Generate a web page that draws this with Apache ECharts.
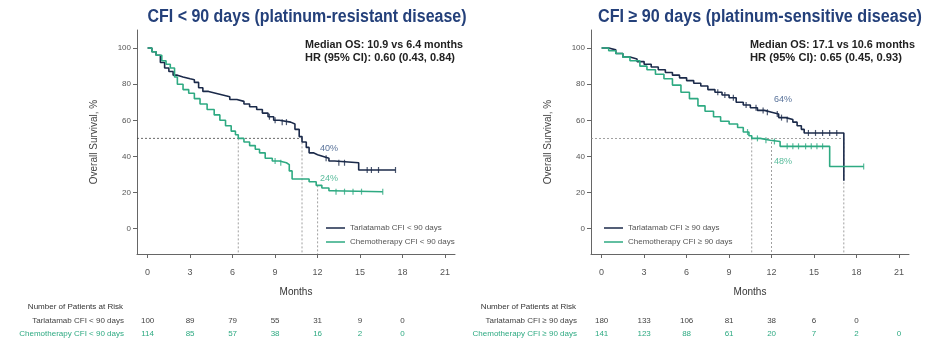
<!DOCTYPE html>
<html><head><meta charset="utf-8">
<script src="https://cdn.jsdelivr.net/npm/echarts@6/dist/echarts.min.js"></script>
<style>html,body{margin:0;padding:0;background:#fff}#c{width:935px;height:347px}</style>
</head><body><div id="c"></div>
<script>
// ---------- data ----------
const xTicks = [0, 3, 6, 9, 12, 15, 18, 21];
const yTicks = [0, 20, 40, 60, 80, 100];
const riskMonths = [0, 3, 6, 9, 12, 15, 18, 21];

const titles = ['CFI < 90 days (platinum-resistant disease)', 'CFI \u2265 90 days (platinum-sensitive disease)'];
const namesLeft = ['Tarlatamab CFI < 90 days', 'Chemotherapy CFI < 90 days'];
const namesRight = ['Tarlatamab CFI \u2265 90 days', 'Chemotherapy CFI \u2265 90 days'];
const statsLeft = ['Median OS: 10.9 vs 6.4 months', 'HR (95% CI): 0.60 (0.43, 0.84)'];
const statsRight = ['Median OS: 17.1 vs 10.6 months', 'HR (95% CI): 0.65 (0.45, 0.93)'];

const tarlaResist = [[0,100],[0.3,98],[0.6,96],[0.9,92],[1.2,89],[1.5,87],[1.8,85],[2.1,84],[2.5,83],[3.0,82.5],[3.3,81],[3.6,78],[3.9,76],[4.3,75],[4.8,74],[5.3,73],[5.8,71.5],[6.3,70.5],[6.8,69],[7.2,67.5],[7.7,66],[8.1,64],[8.5,62],[8.9,60],[9.3,59],[10.1,58],[10.4,55],[10.7,51],[10.9,48],[11.2,45],[11.4,42],[11.7,41],[12.0,40],[12.4,39],[12.8,37.5],[13.2,36.5],[14.9,32.5],[17.5,32.5]];
const chemoResist = [[0,100],[0.3,98],[0.6,96],[1.0,93],[1.3,91],[1.6,89],[1.9,84],[2.1,80],[2.5,77],[2.9,75],[3.3,72],[3.7,69],[4.2,66],[4.7,63],[5.1,60],[5.5,57],[5.9,54],[6.2,52],[6.4,50],[6.8,48],[7.2,46],[7.6,44],[7.9,42],[8.3,39],[8.8,37.5],[9.3,36.5],[9.8,35.5],[10.0,32],[10.2,27.5],[11.4,26],[11.9,24],[12.3,22.5],[12.8,21],[13.0,20.5],[16.6,20.5]];
const tarlaSens = [[0,100],[0.5,99],[1.0,97],[1.5,95],[2.0,94],[2.5,92.5],[3.0,91],[3.5,89.5],[4.0,88],[4.5,86.5],[5.0,85],[5.5,83.5],[6.0,82],[6.5,80.5],[7.0,79],[7.5,77],[8.0,75.5],[8.5,74],[9.0,72.5],[9.5,70],[10.0,68.5],[10.5,67],[11.0,65.5],[11.5,64.5],[12.0,63.5],[12.5,61.5],[13.0,60.5],[13.5,59],[13.8,57],[14.1,55],[14.3,53],[17.1,26.5]];
const chemoSens = [[0,100],[0.5,98.5],[1.0,97],[1.5,95],[2.0,93],[2.7,90],[3.2,88],[3.8,85.5],[4.4,83],[5.0,79.5],[5.6,75.5],[6.2,72],[6.8,68],[7.3,65],[7.9,62],[8.4,59.5],[9.0,58],[9.6,56],[10.0,53.5],[10.4,51.5],[10.6,50],[11.2,49],[11.9,48.3],[12.6,45.6],[16.1,34.4],[18.5,34.4]];

const censorTarlaResist = [8.6, 9.0, 9.5, 9.8, 12.6, 13.5, 13.9, 15.5, 15.8, 16.3, 17.5];
const censorChemoResist = [9.0, 9.4, 13.3, 13.9, 14.5, 15.1, 16.6];
const censorTarlaSens = [8.2, 8.7, 9.3, 10.2, 10.9, 11.4, 11.7, 12.4, 12.7, 13.1, 14.6, 15.1, 15.6, 16.1, 16.6];
const censorChemoSens = [10.3, 11.0, 11.6, 12.2, 13.1, 13.5, 13.9, 14.4, 14.8, 15.2, 15.6, 18.5];

const mediansLeft = [10.9, 6.4];
const mediansRight = [17.1, 10.6];
const landmarkMonth = 12;
const landmarkLeft = [40, 24];
const landmarkRight = [64, 48];

const riskTarlaResist = ['100', '89', '79', '55', '31', '9', '0'];
const riskChemoResist = ['114', '85', '57', '38', '16', '2', '0'];
const riskTarlaSens = ['180', '133', '106', '81', '38', '6', '0'];
const riskChemoSens = ['141', '123', '88', '61', '20', '7', '2', '0'];

// ---------- style ----------
const NAVY = '#1b2a4a';
const GREEN = '#2eaa82';
const AX = '#666';
const XMIN = -0.75, XMAX = 21.7, YMIN = -14, YMAX = 110;
const FONT = 'Liberation Sans, Arial, sans-serif';

function stepVal(curve, t) {
  let v = curve[0][1];
  for (const p of curve) { if (p[0] <= t) v = p[1]; else break; }
  return v;
}
const measCtx = document.createElement('canvas').getContext('2d');
function measure(text, font) { measCtx.font = font; return measCtx.measureText(text).width; }

const chart = echarts.init(document.getElementById('c'), null, { renderer: 'canvas' });

function axesFor(gi) {
  return {
    x: {
      type: 'value', gridIndex: gi, min: XMIN, max: XMAX,
      axisLine: { show: true, onZero: false, lineStyle: { color: AX, width: 1 } },
      axisTick: { show: true, customValues: xTicks, length: 4, lineStyle: { color: AX } },
      axisLabel: { show: true, customValues: xTicks, color: '#555', fontSize: 9, fontFamily: FONT, margin: 14 },
      splitLine: { show: false },
      name: 'Months', nameLocation: 'middle', nameGap: 33,
      nameTextStyle: { color: '#333', fontSize: 10, fontFamily: FONT }
    },
    y: {
      type: 'value', gridIndex: gi, min: YMIN, max: YMAX,
      axisLine: { show: true, onZero: false, lineStyle: { color: AX, width: 1 } },
      axisTick: { show: true, customValues: yTicks, length: 4, lineStyle: { color: AX } },
      axisLabel: { show: true, customValues: yTicks, color: '#555', fontSize: 8, fontFamily: FONT, margin: 6 },
      splitLine: { show: false },
      name: 'Overall Survival, %', nameLocation: 'middle', nameGap: 38,
      nameTextStyle: { color: '#444', fontSize: 10, fontFamily: FONT }
    }
  };
}
const a0 = axesFor(0), a1 = axesFor(1);

function kmSeries(name, data, color, gi) {
  return {
    name, type: 'line', xAxisIndex: gi, yAxisIndex: gi, data, step: 'end',
    symbol: 'none', showSymbol: false, lineStyle: { color, width: 1.6 }, itemStyle: { color },
    z: 5, animation: false
  };
}
function censorSeries(times, curve, color, gi) {
  return {
    type: 'scatter', xAxisIndex: gi, yAxisIndex: gi,
    data: times.map(t => [t, stepVal(curve, t)]),
    symbol: 'rect', symbolSize: [1.2, 6], itemStyle: { color }, z: 6, silent: true, animation: false
  };
}
function refLines(medians, landmarks, gi, color) {
  const maxMed = Math.max(...medians);
  const segs = [];
  segs.push([[XMIN, 50], [maxMed, 50]]);
  medians.forEach(m => segs.push([[m, 50], [m, YMIN]]));
  segs.push([[landmarkMonth, Math.min(...landmarks)], [landmarkMonth, YMIN]]);
  return segs.map((s, i) => ({
    type: 'line', xAxisIndex: gi, yAxisIndex: gi, data: s, symbol: 'none',
    lineStyle: { color: i === 0 ? color : '#888', width: 0.8, type: [2, 2] },
    z: 2, silent: true, animation: false
  }));
}
function pctLabels(values, colors, yPos, gi) {
  return values.map((v, i) => ({
    type: 'scatter', xAxisIndex: gi, yAxisIndex: gi, data: [[landmarkMonth + 0.8, yPos[i]]],
    symbolSize: 0, silent: true, animation: false,
    label: { show: true, formatter: v + '%', color: colors[i], fontSize: 9, fontFamily: FONT, position: 'inside' }
  }));
}

const legendCommon = {
  orient: 'vertical', itemGap: 6, itemWidth: 19, itemHeight: 1.5, icon: 'rect',
  textStyle: { color: '#555', fontSize: 8, fontFamily: FONT }, selectedMode: false, padding: 0
};

const option = {
  animation: false,
  backgroundColor: '#fff',
  grid: [
    { left: 137, top: 30, width: 318, height: 224, containLabel: false },
    { left: 591, top: 30, width: 318, height: 224, containLabel: false }
  ],
  xAxis: [a0.x, a1.x],
  yAxis: [a0.y, a1.y],
  legend: [
    Object.assign({ data: namesLeft, left: 326, top: 224 }, legendCommon),
    Object.assign({ data: namesRight, left: 604, top: 224 }, legendCommon)
  ],
  series: [
    kmSeries(namesLeft[0], tarlaResist, NAVY, 0),
    kmSeries(namesLeft[1], chemoResist, GREEN, 0),
    kmSeries(namesRight[0], tarlaSens, NAVY, 1),
    kmSeries(namesRight[1], chemoSens, GREEN, 1),
    censorSeries(censorTarlaResist, tarlaResist, NAVY, 0),
    censorSeries(censorChemoResist, chemoResist, GREEN, 0),
    censorSeries(censorTarlaSens, tarlaSens, NAVY, 1),
    censorSeries(censorChemoSens, chemoSens, GREEN, 1),
    ...refLines(mediansLeft, landmarkLeft, 0, '#444'),
    ...refLines(mediansRight, landmarkRight, 1, '#888'),
    ...pctLabels(landmarkLeft, ['#2d4d80', GREEN], [44.5, 28], 0),
    ...pctLabels(landmarkRight, ['#2d4d80', GREEN], [71.5, 37], 1)
  ]
};
chart.setOption(option);

// titles, annotations and risk table
const g = [];
function txt(x, y, text, opts, targetW) {
  const style = Object.assign({ text, fontFamily: FONT, fontSize: 8, fill: '#444', verticalAlign: 'middle', align: 'left' }, opts || {});
  const el = { type: 'text', x, y, style, z: 10 };
  if (targetW) {
    const w = measure(text, (style.fontWeight || 'normal') + ' ' + style.fontSize + 'px ' + style.fontFamily);
    el.scaleX = targetW / w;
  }
  g.push(el);
}
const TITLE_STYLE = { fontWeight: 'bold', fontSize: 18, fill: '#24407a', align: 'center', fontFamily: 'Liberation Sans, Arial, sans-serif' };
txt(307, 17, titles[0], TITLE_STYLE, 319);
txt(760, 17, titles[1], TITLE_STYLE, 324);
const STAT_STYLE = { fontWeight: 'bold', fontSize: 10, fill: '#222' };
txt(305, 45, statsLeft[0], STAT_STYLE, 158);
txt(305, 58, statsLeft[1], STAT_STYLE, 150);
txt(750, 45, statsRight[0], STAT_STYLE, 165);
txt(750, 58, statsRight[1], STAT_STYLE, 152);

function riskTable(gi, names, rows, labelRight) {
  txt(labelRight - 1, 307, 'Number of Patients at Risk', { align: 'right', fill: '#333' });
  const ys = [321, 334];
  const cols = ['#444', GREEN];
  rows.forEach((r, ri) => {
    txt(labelRight, ys[ri], names[ri], { align: 'right', fill: cols[ri] });
    r.forEach((v, i) => {
      const px = chart.convertToPixel({ xAxisIndex: gi }, riskMonths[i]);
      txt(px, ys[ri], v, { align: 'center', fill: cols[ri] });
    });
  });
}
riskTable(0, namesLeft, [riskTarlaResist, riskChemoResist], 124);
riskTable(1, namesRight, [riskTarlaSens, riskChemoSens], 577);
chart.setOption({ graphic: g });
</script>
</body></html>
